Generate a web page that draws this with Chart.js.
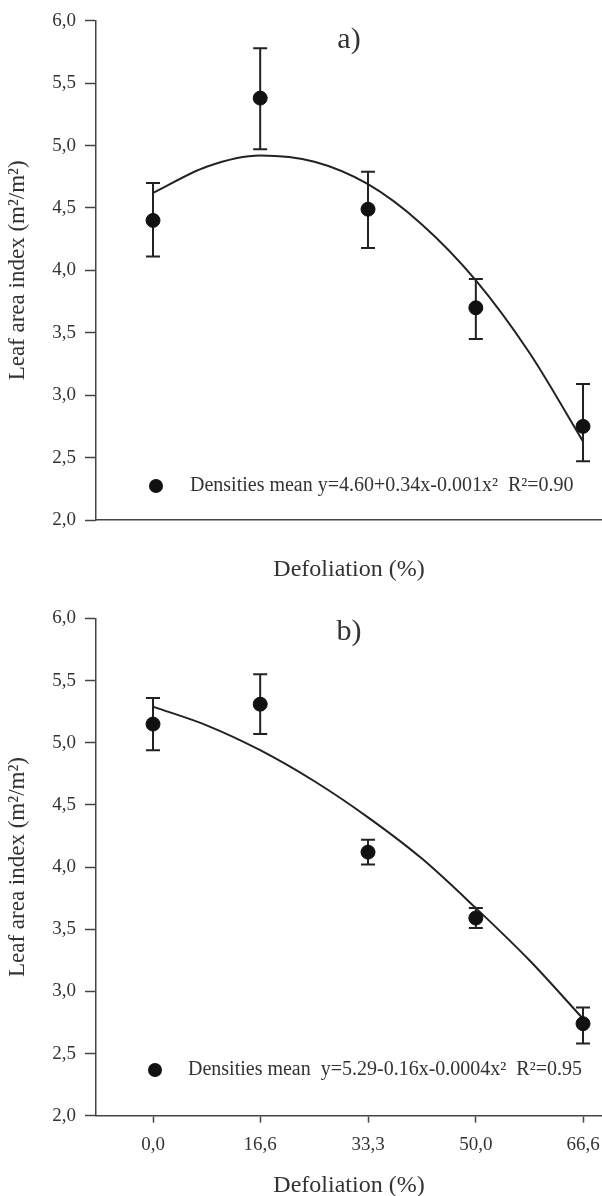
<!DOCTYPE html>
<html>
<head>
<meta charset="utf-8">
<script src="https://cdn.jsdelivr.net/npm/chart.js@4.4.1/dist/chart.umd.min.js"></script>
<style>
  html, body { margin: 0; padding: 0; background: #fff; }
  .panel { position: absolute; left: 0; width: 602px; height: 598px; }
  #wrapA { top: 0; }
  #wrapB { top: 598px; }
</style>
</head>
<body>
<div class="panel" id="wrapA"><canvas id="chartA" width="602" height="598"></canvas></div>
<div class="panel" id="wrapB"><canvas id="chartB" width="602" height="598"></canvas></div>
<script>
// Defoliation levels (%) and the tick labels shown under the axis
const defoliation = [0, 16.6, 33.3, 50, 66.6];
const xTickLabels = ['0,0', '16,6', '33,3', '50,0', '66,6'];

// Panel a) - leaf area index means and error bar ends
const laiA = [4.40, 5.38, 4.49, 3.70, 2.75];
const laiAUpper = [4.70, 5.78, 4.79, 3.93, 3.09];
const laiALower = [4.11, 4.97, 4.18, 3.45, 2.47];

// Panel b)
const laiB = [5.15, 5.31, 4.12, 3.59, 2.74];
const laiBUpper = [5.36, 5.55, 4.22, 3.67, 2.87];
const laiBLower = [4.94, 5.07, 4.02, 3.51, 2.58];

// Fitted curves
const curveX = [0, 8.3, 16.6, 25, 33.3, 41.6, 50, 58.3, 66.6];
const curveA = [4.62, 4.83, 4.92, 4.87, 4.69, 4.37, 3.92, 3.34, 2.63];
const curveB = [5.29, 5.14, 4.94, 4.69, 4.40, 4.07, 3.67, 3.25, 2.78];

const legendA = 'Densities mean y=4.60+0.34x-0.001x\u00B2  R\u00B2=0.90';
const legendB = 'Densities mean  y=5.29-0.16x-0.0004x\u00B2  R\u00B2=0.95';

const SERIF = '"Liberation Serif", "Times New Roman", serif';
const INK = '#333';
const AXIS = '#444';

// Draws vertical error bars with caps
const errorBarPlugin = {
    id: 'errorBars',
    beforeDatasetsDraw(chart, args, opts) {
        const { ctx, scales: { x, y } } = chart;
        ctx.save();
        ctx.strokeStyle = '#222';
        ctx.lineWidth = 2;
        defoliation.forEach((d, i) => {
            const px = x.getPixelForValue(d);
            const top = y.getPixelForValue(opts.upper[i]);
            const bot = y.getPixelForValue(opts.lower[i]);
            ctx.beginPath();
            ctx.moveTo(px, top); ctx.lineTo(px, bot);
            ctx.moveTo(px - 7, top); ctx.lineTo(px + 7, top);
            ctx.moveTo(px - 7, bot); ctx.lineTo(px + 7, bot);
            ctx.stroke();
        });
        ctx.restore();
    }
};

// Legend inside the plot, plus the panel letter
const annotatePlugin = {
    id: 'annotate',
    afterDraw(chart, args, opts) {
        const ctx = chart.ctx;
        const area = chart.chartArea;
        ctx.save();
        ctx.fillStyle = '#111';
        ctx.beginPath();
        ctx.arc(opts.dotX, opts.dotY, 7, 0, Math.PI * 2);
        ctx.fill();
        ctx.fillStyle = INK;
        ctx.textBaseline = 'middle';
        ctx.font = '20px ' + SERIF;
        ctx.fillText(opts.text, opts.textX, opts.dotY);
        ctx.font = '30px ' + SERIF;
        ctx.textAlign = 'center';
        ctx.fillText(opts.letter, (area.left + area.right) / 2, opts.letterY);
        ctx.restore();
    }
};

function buildChart(canvasId, p) {
    const points = defoliation.map((d, i) => ({ x: d, y: p.means[i] }));
    const curve = curveX.map((d, i) => ({ x: d, y: p.curve[i] }));

    return new Chart(document.getElementById(canvasId), {
        type: 'scatter',
        data: {
            datasets: [{
                label: 'Densities mean',
                data: points,
                pointRadius: 7,
                pointHoverRadius: 7,
                backgroundColor: '#111',
                borderColor: '#111',
                showLine: false,
                order: 0
            }, {
                label: 'Fit',
                type: 'line',
                data: curve,
                borderColor: '#222',
                borderWidth: 2,
                pointRadius: 0,
                cubicInterpolationMode: 'monotone',
                fill: false,
                order: 1
            }]
        },
        options: {
            responsive: false,
            animation: false,
            events: [],
            layout: {
                autoPadding: false,
                padding: { top: p.padTop, right: 0, bottom: 0, left: 0 }
            },
            plugins: {
                legend: { display: false },
                tooltip: { enabled: false },
                errorBars: { upper: p.upper, lower: p.lower },
                annotate: {
                    text: p.legend, dotX: p.dotX, dotY: p.dotY, textX: p.textX,
                    letter: p.letter, letterY: p.letterY
                }
            },
            scales: {
                x: {
                    type: 'linear',
                    min: -8.83,
                    max: 69.54,
                    afterBuildTicks: scale => {
                        scale.ticks = defoliation.map(v => ({ value: v }));
                    },
                    afterFit: scale => {
                        scale.height = p.xAxisHeight;
                        scale.paddingLeft = 0;
                        scale.paddingRight = 0;
                    },
                    ticks: {
                        display: p.showXTicks,
                        padding: 11,
                        color: INK,
                        font: { family: SERIF, size: 19 },
                        callback: (v, i) => xTickLabels[i]
                    },
                    grid: {
                        drawOnChartArea: false,
                        drawTicks: p.showXTicks,
                        tickLength: 7,
                        tickColor: AXIS,
                        tickWidth: 1.5
                    },
                    border: { color: AXIS, width: 1.5 },
                    title: {
                        display: true,
                        text: 'Defoliation (%)',
                        color: INK,
                        font: { family: SERIF, size: 24, lineHeight: 1 },
                        padding: { top: 0, bottom: p.titlePad }
                    }
                },
                y: {
                    min: 2,
                    max: 6,
                    afterFit: scale => { scale.width = 96; },
                    ticks: {
                        stepSize: 0.5,
                        padding: 9,
                        color: INK,
                        font: { family: SERIF, size: 19 },
                        callback: v => v.toFixed(1).replace('.', ',')
                    },
                    grid: {
                        drawOnChartArea: false,
                        tickLength: 11,
                        tickColor: AXIS,
                        tickWidth: 1.5
                    },
                    border: { color: AXIS, width: 1.5 },
                    title: {
                        display: true,
                        text: 'Leaf area index (m\u00B2/m\u00B2)',
                        color: INK,
                        font: { family: SERIF, size: 23, lineHeight: 1 },
                        padding: { top: 6, bottom: 0 }
                    }
                }
            }
        },
        plugins: [errorBarPlugin, annotatePlugin]
    });
}

buildChart('chartA', {
    means: laiA, upper: laiAUpper, lower: laiALower, curve: curveA,
    legend: legendA, dotX: 156, dotY: 486, textX: 190,
    letter: 'a)', letterY: 40,
    padTop: 20.7, xAxisHeight: 78, showXTicks: false, titlePad: 16
});

buildChart('chartB', {
    means: laiB, upper: laiBUpper, lower: laiBLower, curve: curveB,
    legend: legendB, dotX: 155, dotY: 472, textX: 188,
    letter: 'b)', letterY: 34,
    padTop: 19, xAxisHeight: 80.3, showXTicks: true, titlePad: -2
});
</script>
</body>
</html>
